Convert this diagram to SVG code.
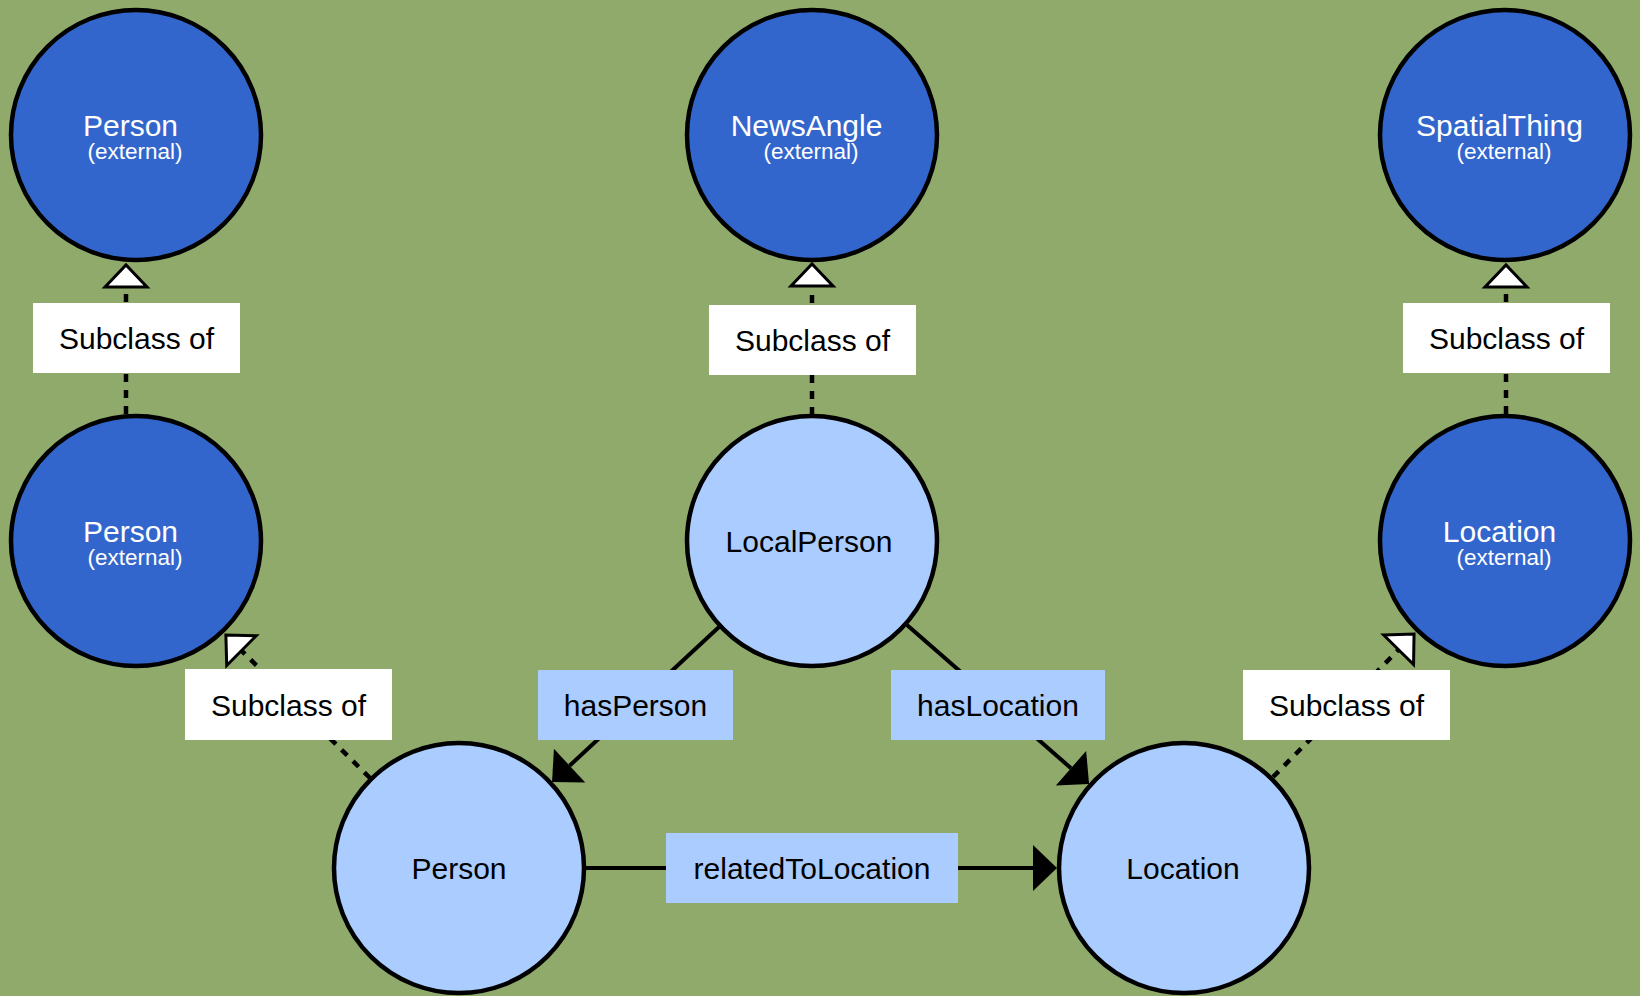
<svg xmlns="http://www.w3.org/2000/svg" width="1640" height="996" viewBox="0 0 1640 996">
<style>
.ext{fill:#3366cc;stroke:#000;stroke-width:4.5}
.cls{fill:#aaccff;stroke:#000;stroke-width:4.5}
.t{font-family:"Liberation Sans",Arial,sans-serif;text-anchor:middle}
.main{font-size:30px}
.sub{font-size:22.5px}
.w{fill:#fff}
.b{fill:#000}
.dash{stroke:#000;stroke-width:4.5;stroke-dasharray:8 8;fill:none}
.solid{stroke:#000;stroke-width:4;fill:none}
.lblW{fill:#fff}
.lblB{fill:#aaccff}
</style>
<defs>
<marker id="open" markerUnits="userSpaceOnUse" markerWidth="60" markerHeight="60" refX="0" refY="0" orient="auto" viewBox="-5 -30 40 60" overflow="visible">
<path d="M0,-21 L22,0 L0,21 Z" fill="#fff" stroke="#000" stroke-width="3" stroke-linejoin="miter"/>
</marker>
<marker id="fill" markerUnits="userSpaceOnUse" markerWidth="60" markerHeight="60" refX="0" refY="0" orient="auto" viewBox="-5 -30 40 60" overflow="visible">
<path d="M0,-23 L24,0 L0,23 Z" fill="#000"/>
</marker>
</defs>
<rect x="0" y="0" width="1640" height="996" fill="#8faa6a"/>

<g id="connectors">
<line class="dash" x1="126" y1="414" x2="126" y2="287" marker-end="url(#open)"/>
<line class="dash" x1="812" y1="415" x2="812" y2="286" marker-end="url(#open)"/>
<line class="dash" x1="1506" y1="414" x2="1506" y2="287" marker-end="url(#open)"/>
<line class="dash" x1="370" y1="778" x2="241.5" y2="650.6" marker-end="url(#open)"/>
<line class="dash" x1="1273" y1="777" x2="1398.6" y2="649.7" marker-end="url(#open)"/>
<line class="solid" x1="719" y1="627" x2="569.6" y2="765.7" marker-end="url(#fill)"/>
<line class="solid" x1="907" y1="625" x2="1071" y2="768.2" marker-end="url(#fill)"/>
<line class="solid" x1="586" y1="868" x2="1033" y2="868" marker-end="url(#fill)"/>
<g id="lbl-sub1"><rect class="lblW" x="33" y="303" width="207" height="70"/><text class="t main b" x="136.5" y="349">Subclass of</text></g>
<g id="lbl-sub2"><rect class="lblW" x="709" y="305" width="207" height="70"/><text class="t main b" x="812.5" y="351">Subclass of</text></g>
<g id="lbl-sub3"><rect class="lblW" x="1403" y="303" width="207" height="70"/><text class="t main b" x="1506.5" y="349">Subclass of</text></g>
<g id="lbl-sub4"><rect class="lblW" x="185" y="669" width="207" height="71"/><text class="t main b" x="288.5" y="715.5">Subclass of</text></g>
<g id="lbl-sub5"><rect class="lblW" x="1243" y="670" width="207" height="70"/><text class="t main b" x="1346.5" y="716">Subclass of</text></g>
<g id="lbl-hasPerson"><rect class="lblB" x="538" y="670" width="195" height="70"/><text class="t main b" x="635.5" y="716">hasPerson</text></g>
<g id="lbl-hasLocation"><rect class="lblB" x="891" y="670" width="214" height="70"/><text class="t main b" x="998" y="716">hasLocation</text></g>
<g id="lbl-related"><rect class="lblB" x="666" y="833" width="292" height="70"/><text class="t main b" x="812" y="879">relatedToLocation</text></g>
</g>

<g id="node-person-ext-top"><circle class="ext" cx="136" cy="135" r="125"/><text class="t main w" x="130.5" y="136">Person</text><text class="t sub w" x="135" y="159">(external)</text></g>
<g id="node-newsangle"><circle class="ext" cx="812" cy="135" r="125"/><text class="t main w" x="806.5" y="136">NewsAngle</text><text class="t sub w" x="811" y="159">(external)</text></g>
<g id="node-spatialthing"><circle class="ext" cx="1505" cy="135" r="125"/><text class="t main w" x="1499.5" y="136">SpatialThing</text><text class="t sub w" x="1504" y="159">(external)</text></g>
<g id="node-person-ext-mid"><circle class="ext" cx="136" cy="541" r="125"/><text class="t main w" x="130.5" y="542">Person</text><text class="t sub w" x="135" y="565">(external)</text></g>
<g id="node-localperson"><circle class="cls" cx="812" cy="541" r="125"/><text class="t main b" x="809" y="552">LocalPerson</text></g>
<g id="node-location-ext"><circle class="ext" cx="1505" cy="541" r="125"/><text class="t main w" x="1499.5" y="542">Location</text><text class="t sub w" x="1504" y="565">(external)</text></g>
<g id="node-person"><circle class="cls" cx="459" cy="868" r="125"/><text class="t main b" x="459" y="879">Person</text></g>
<g id="node-location"><circle class="cls" cx="1184" cy="868" r="125"/><text class="t main b" x="1183" y="879">Location</text></g>
</svg>
